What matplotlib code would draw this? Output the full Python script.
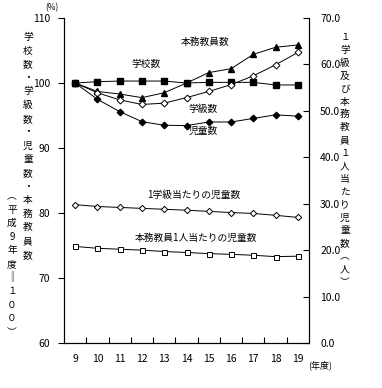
import matplotlib.pyplot as plt

plt.rcParams['font.family'] = ['Noto Sans CJK JP', 'DejaVu Sans']

years = [9, 10, 11, 12, 13, 14, 15, 16, 17, 18, 19]

# 指数 (平成9年度=100)
gakkou = [100, 100.2, 100.3, 100.3, 100.3, 100.0, 100.1, 100.1, 100.1, 99.7, 99.7]
kyouin = [100, 98.7, 98.3, 97.75, 98.5, 100.0, 101.6, 102.2, 104.4, 105.5, 105.85]
gakkyu = [100, 98.5, 97.4, 96.7, 96.9, 97.75, 98.7, 99.75, 101.1, 102.8, 104.7]
jidou = [100, 97.5, 95.6, 94.05, 93.5, 93.45, 94.0, 94.0, 94.55, 95.1, 94.9]

# 人数 (右軸)
per_class = [29.8, 29.4, 29.2, 29.0, 28.8, 28.6, 28.35, 28.1, 27.9, 27.5, 27.05]
per_teacher = [20.8, 20.4, 20.2, 20.0, 19.7, 19.5, 19.25, 19.1, 18.9, 18.6, 18.7]

fig = plt.figure(figsize=(3.82, 3.88), dpi=100)
W, H = 382, 388
ax = fig.add_axes([64 / W, 1 - 343 / H, (309 - 64) / W, (343 - 18) / H])
ax2 = ax.twinx()

x = list(range(len(years)))
lw = 0.7
ax.plot(x, gakkou, color='black', lw=lw, marker='s', ms=4.2, mfc='black', zorder=3)
ax.plot(x, kyouin, color='black', lw=lw, marker='^', ms=4.8, mfc='black', zorder=3)
ax.plot(x, gakkyu, color='black', lw=lw, marker='D', ms=3.5, mfc='white', mew=0.7, zorder=3)
ax.plot(x, jidou, color='black', lw=lw, marker='D', ms=3.3, mfc='black', zorder=3)
ax2.plot(x, per_class, color='black', lw=lw, marker='D', ms=3.2, mfc='white', mew=0.7)
ax2.plot(x, per_teacher, color='black', lw=lw, marker='s', ms=3.6, mfc='white', mew=0.7)

ax.set_xlim(-0.5, len(years) - 0.5)
ax.set_ylim(60, 110)
ax.set_yticks([60, 70, 80, 90, 100, 110])
ax2.set_ylim(0, 70)
ax2.set_yticks(range(0, 71, 10))
ax2.set_yticklabels([f'{v:.1f}' for v in range(0, 71, 10)])

ax.set_xticks(x)
ax.set_xticklabels([str(y) for y in years])
ax.set_xticks([i + 0.5 for i in x[:-1]], minor=True)
ax.tick_params(axis='x', which='major', length=0, pad=8, labelsize=7.5)
ax.tick_params(axis='x', which='minor', direction='in', length=4, width=0.8)
ax.tick_params(axis='y', direction='out', length=4, width=0.8, labelsize=7.5, pad=6)
ax2.tick_params(axis='y', direction='in', length=4, width=0.8, labelsize=7.5, pad=8)

for a in (ax, ax2):
    a.spines['top'].set_visible(False)
    for s in ('left', 'right', 'bottom'):
        a.spines[s].set_linewidth(0.8)

fs = 7
def px(xp, yp):
    return xp / W, 1 - yp / H

fig.text(*px(205, 42), '本務教員数', fontsize=fs, ha='center', va='center')
fig.text(*px(146, 64), '学校数', fontsize=fs, ha='center', va='center')
fig.text(*px(203, 109), '学級数', fontsize=fs, ha='center', va='center')
fig.text(*px(203, 131), '児童数', fontsize=fs, ha='center', va='center')
fig.text(*px(194, 195), '1学級当たりの児童数', fontsize=fs, ha='center', va='center')
fig.text(*px(196, 238), '本務教員1人当たりの児童数', fontsize=fs, ha='center', va='center')
fig.text(*px(52, 8), '(%)', fontsize=6, ha='center', va='center')
fig.text(*px(320, 365), '(年度)', fontsize=6.5, ha='center', va='center')


def vtext(xp, y0, step, s, size=7):
    for i, ch in enumerate(s):
        fig.text(*px(xp, y0 + i * step), ch, fontsize=size, ha='center', va='center')


vtext(28, 37, 13.6, '学校数・学級数・児童数・本務教員数')
vtext(12, 196, 13.6, '︵平成9年度‖１００︶')
vtext(345, 37, 12.9, '１学級及び本務教員１人当たり児童数︵人︶')

fig.savefig('out.png', dpi=100)
